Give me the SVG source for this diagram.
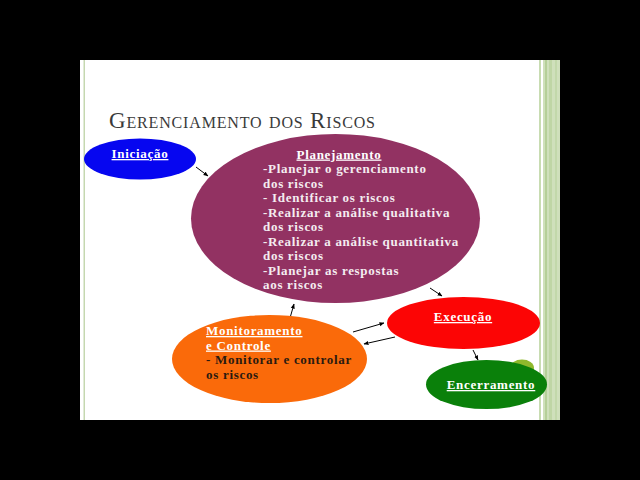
<svg xmlns="http://www.w3.org/2000/svg" width="640" height="480" viewBox="0 0 640 480">
<defs>
<marker id="ah" viewBox="0 0 10 10" refX="9" refY="5" markerWidth="5" markerHeight="5" orient="auto" markerUnits="userSpaceOnUse">
<path d="M0,1 L10,5 L0,9 z" fill="#000"/>
</marker>
<style>
.lbl{font-family:"Liberation Serif","DejaVu Serif",serif;font-weight:bold;font-size:13px;letter-spacing:0.7px}
.w{fill:#ffffff}
.u{text-decoration:underline}
.dk{fill:#2a1a10}
.cn{stroke:#000;stroke-width:1;fill:none;marker-end:url(#ah)}
</style>
</defs>
<rect width="640" height="480" fill="#000"/>
<rect x="80" y="60" width="480" height="360" fill="#fff"/>
<rect x="83.5" y="60" width="1.5" height="360" fill="#c5d8b0"/>
<g id="stripes">
<rect x="539" y="60" width="2" height="360" fill="#c8dcb2"/>
<rect x="543" y="60" width="17" height="360" fill="#cfe0bb"/>
<rect x="545" y="60" width="2" height="360" fill="#b5cf98"/>
<rect x="549" y="60" width="3" height="360" fill="#bfd6a5"/>
<rect x="555" y="60" width="2" height="360" fill="#c2d8aa"/>
</g>
<text x="109" y="128" font-family="Liberation Serif, DejaVu Serif, serif" font-size="23" font-variant="small-caps" fill="#3a3a3a" textLength="266" lengthAdjust="spacing">Gerenciamento dos Riscos</text>

<g id="connectors">
<line class="cn" x1="196" y1="167" x2="208" y2="176"/>
<line class="cn" x1="430" y1="288" x2="442" y2="296"/>
<line class="cn" x1="290" y1="318" x2="294" y2="304"/>
<line class="cn" x1="353" y1="332" x2="384" y2="323"/>
<line class="cn" x1="395" y1="337" x2="364" y2="344"/>
<line class="cn" x1="473" y1="350" x2="478" y2="360"/>
</g>

<g id="iniciacao">
<ellipse cx="140" cy="159" rx="56" ry="20.5" fill="#0606f0"/>
<text class="lbl w u" x="140" y="158" text-anchor="middle">Iniciação</text>
</g>

<g id="planejamento">
<ellipse cx="335.5" cy="218.5" rx="144.5" ry="84.5" fill="#923262"/>
<text class="lbl w u" x="339" y="158.5" text-anchor="middle">Planejamento</text>
<text class="lbl" x="263" y="173" fill="#f4ecf0">-Planejar o gerenciamento</text>
<text class="lbl" x="263" y="187.5" fill="#f4ecf0">dos riscos</text>
<text class="lbl" x="263" y="202" fill="#f4ecf0">- Identificar os riscos</text>
<text class="lbl" x="263" y="216.5" fill="#f4ecf0">-Realizar a análise qualitativa</text>
<text class="lbl" x="263" y="231" fill="#f4ecf0">dos riscos</text>
<text class="lbl" x="263" y="245.5" fill="#f4ecf0">-Realizar a análise quantitativa</text>
<text class="lbl" x="263" y="260" fill="#f4ecf0">dos riscos</text>
<text class="lbl" x="263" y="274.5" fill="#f4ecf0">-Planejar as respostas</text>
<text class="lbl" x="263" y="289" fill="#f4ecf0">aos riscos</text>
</g>

<g id="monitoramento">
<ellipse cx="269.5" cy="359" rx="97.5" ry="44" fill="#fa6a0a"/>
<text class="lbl w u" x="206" y="335">Monitoramento</text>
<text class="lbl w u" x="206" y="349.5">e Controle</text>
<text class="lbl dk" x="206" y="364">- Monitorar e controlar</text>
<text class="lbl dk" x="206" y="378.5">os riscos</text>
</g>

<g id="execucao">
<ellipse cx="463.5" cy="323" rx="76.5" ry="26" fill="#fc0505"/>
<text class="lbl w u" x="463" y="321" text-anchor="middle">Execução</text>
</g>

<g id="encerramento">
<ellipse cx="522" cy="368" rx="12" ry="8.5" fill="#8fb82c"/>
<ellipse cx="486.5" cy="384.5" rx="60.5" ry="24.5" fill="#0a800a"/>
<text class="lbl w u" x="491" y="389" text-anchor="middle">Encerramento</text>
</g>
</svg>
